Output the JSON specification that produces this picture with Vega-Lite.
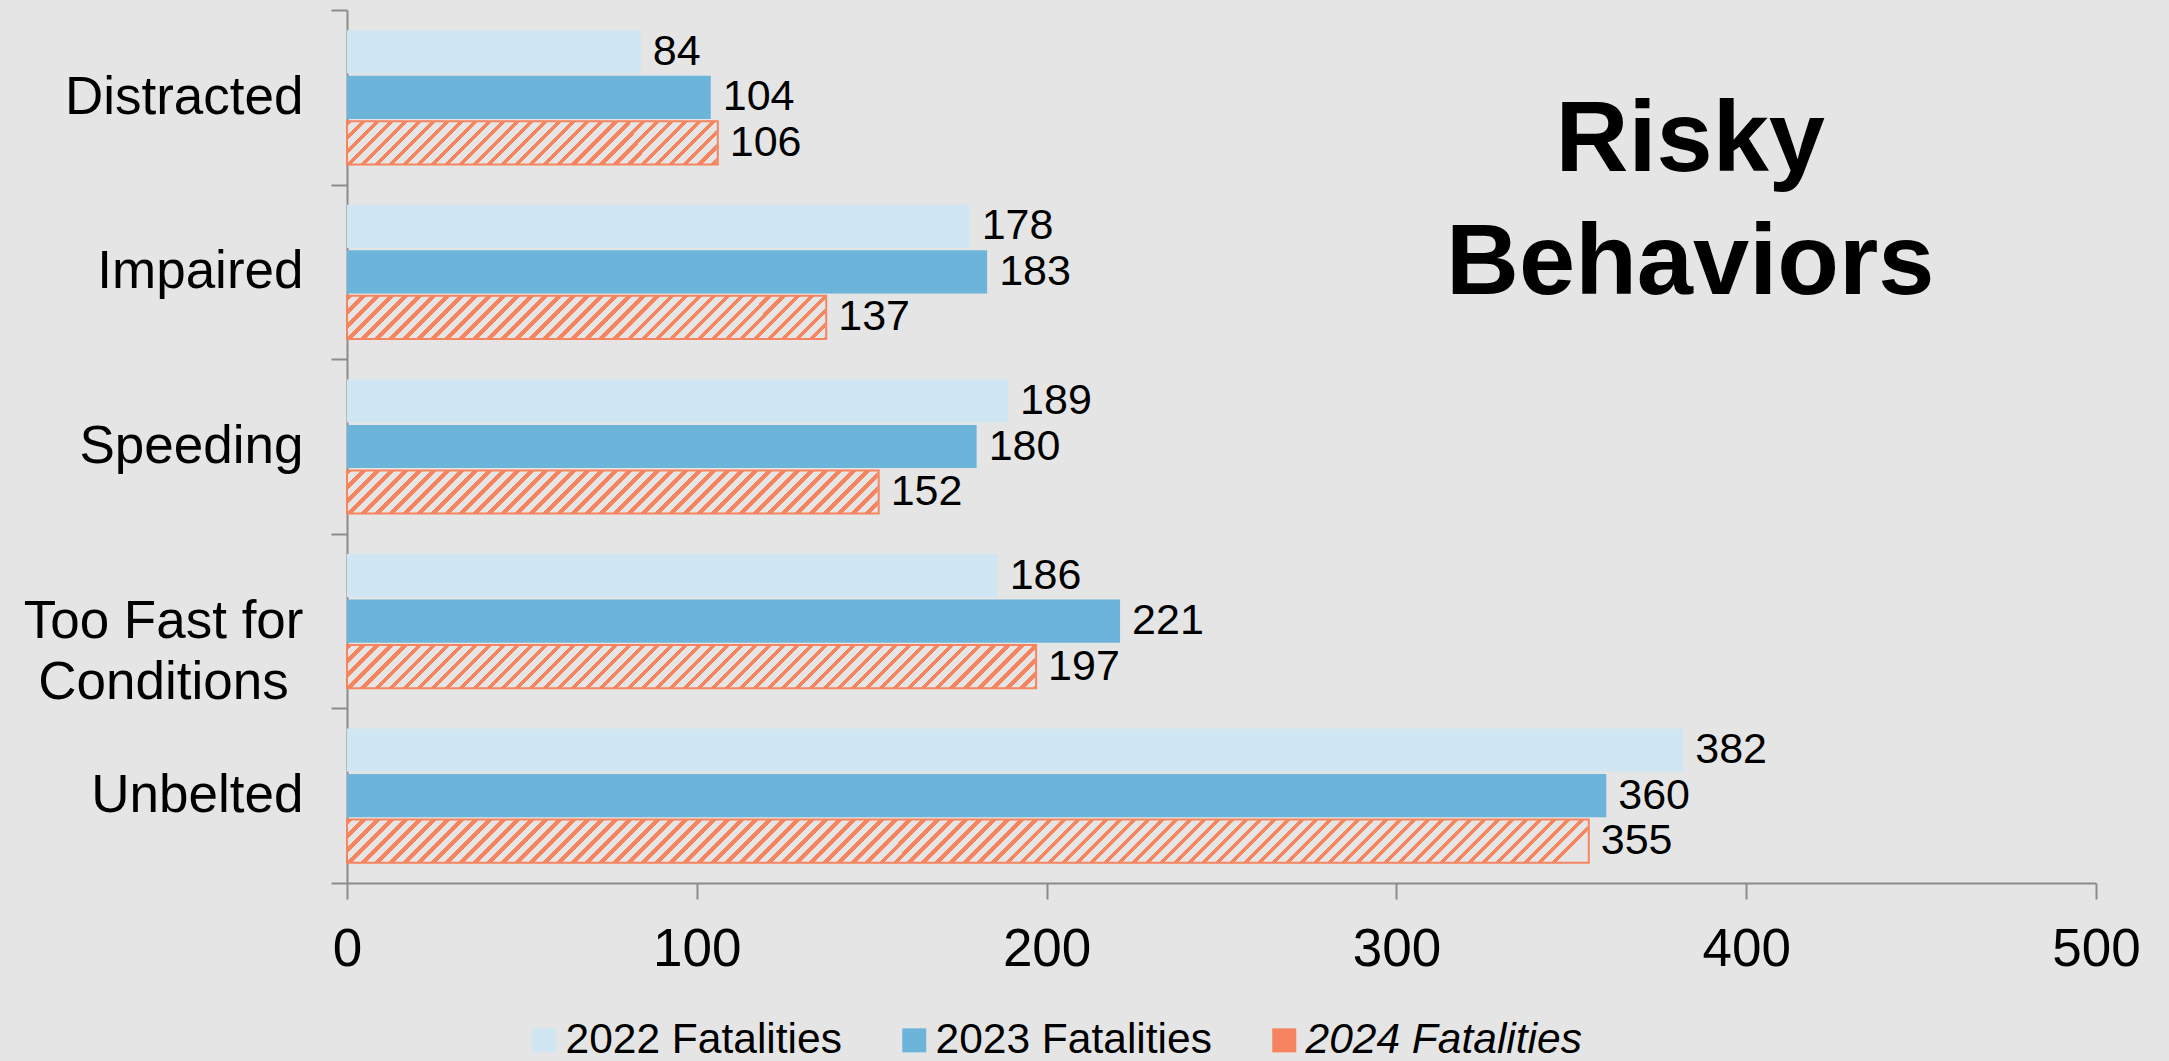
{
  "$schema": "https://vega.github.io/schema/vega-lite/v6.json",
  "width": 1749,
  "height": 873,
  "autosize": {"type": "none"},
  "padding": {"left": 347, "top": 10, "right": 73, "bottom": 178},
  "background": "#e5e5e5",
  "config": {
    "view": {"stroke": null},
    "font": "Liberation Sans",
    "axis": {"labelFont": "Liberation Sans", "labelColor": "#000000", "domainColor": "#8c8c8c", "tickColor": "#8c8c8c", "domainWidth": 2, "tickWidth": 2, "grid": false},
    "text": {"font": "Liberation Sans"}
  },
  "data": {"values": [
    {"cat": "Distracted", "year": "2022", "value": 84},
    {"cat": "Distracted", "year": "2023", "value": 104},
    {"cat": "Distracted", "year": "2024", "value": 106},
    {"cat": "Impaired", "year": "2022", "value": 178},
    {"cat": "Impaired", "year": "2023", "value": 183},
    {"cat": "Impaired", "year": "2024", "value": 137},
    {"cat": "Speeding", "year": "2022", "value": 189},
    {"cat": "Speeding", "year": "2023", "value": 180},
    {"cat": "Speeding", "year": "2024", "value": 152},
    {"cat": "Too Fast for Conditions", "year": "2022", "value": 186},
    {"cat": "Too Fast for Conditions", "year": "2023", "value": 221},
    {"cat": "Too Fast for Conditions", "year": "2024", "value": 197},
    {"cat": "Unbelted", "year": "2022", "value": 382},
    {"cat": "Unbelted", "year": "2023", "value": 360},
    {"cat": "Unbelted", "year": "2024", "value": 355}
  ]},
  "layer": [
    {
      "transform": [{"filter": "datum.year == '2024'"}],
      "mark": {"type": "bar", "fill": {"gradient": "linear", "x1": 0, "y1": 0, "x2": 1, "y2": 0.0343, "stops": [
{"offset":0,"color":"#f5845f"},{"offset":0.0044,"color":"#f5845f"},{"offset":0.0044,"color":"#e5e5e5"},{"offset":0.0111,"color":"#e5e5e5"},
{"offset":0.0111,"color":"#f5845f"},{"offset":0.0156,"color":"#f5845f"},{"offset":0.0156,"color":"#e5e5e5"},{"offset":0.0222,"color":"#e5e5e5"},
{"offset":0.0222,"color":"#f5845f"},{"offset":0.0267,"color":"#f5845f"},{"offset":0.0267,"color":"#e5e5e5"},{"offset":0.0333,"color":"#e5e5e5"},
{"offset":0.0333,"color":"#f5845f"},{"offset":0.0378,"color":"#f5845f"},{"offset":0.0378,"color":"#e5e5e5"},{"offset":0.0444,"color":"#e5e5e5"},
{"offset":0.0444,"color":"#f5845f"},{"offset":0.0489,"color":"#f5845f"},{"offset":0.0489,"color":"#e5e5e5"},{"offset":0.0556,"color":"#e5e5e5"},
{"offset":0.0556,"color":"#f5845f"},{"offset":0.06,"color":"#f5845f"},{"offset":0.06,"color":"#e5e5e5"},{"offset":0.0667,"color":"#e5e5e5"},
{"offset":0.0667,"color":"#f5845f"},{"offset":0.0711,"color":"#f5845f"},{"offset":0.0711,"color":"#e5e5e5"},{"offset":0.0778,"color":"#e5e5e5"},
{"offset":0.0778,"color":"#f5845f"},{"offset":0.0822,"color":"#f5845f"},{"offset":0.0822,"color":"#e5e5e5"},{"offset":0.0889,"color":"#e5e5e5"},
{"offset":0.0889,"color":"#f5845f"},{"offset":0.0933,"color":"#f5845f"},{"offset":0.0933,"color":"#e5e5e5"},{"offset":0.1,"color":"#e5e5e5"},
{"offset":0.1,"color":"#f5845f"},{"offset":0.1044,"color":"#f5845f"},{"offset":0.1044,"color":"#e5e5e5"},{"offset":0.1111,"color":"#e5e5e5"},
{"offset":0.1111,"color":"#f5845f"},{"offset":0.1156,"color":"#f5845f"},{"offset":0.1156,"color":"#e5e5e5"},{"offset":0.1222,"color":"#e5e5e5"},
{"offset":0.1222,"color":"#f5845f"},{"offset":0.1267,"color":"#f5845f"},{"offset":0.1267,"color":"#e5e5e5"},{"offset":0.1333,"color":"#e5e5e5"},
{"offset":0.1333,"color":"#f5845f"},{"offset":0.1378,"color":"#f5845f"},{"offset":0.1378,"color":"#e5e5e5"},{"offset":0.1444,"color":"#e5e5e5"},
{"offset":0.1444,"color":"#f5845f"},{"offset":0.1489,"color":"#f5845f"},{"offset":0.1489,"color":"#e5e5e5"},{"offset":0.1556,"color":"#e5e5e5"},
{"offset":0.1556,"color":"#f5845f"},{"offset":0.16,"color":"#f5845f"},{"offset":0.16,"color":"#e5e5e5"},{"offset":0.1667,"color":"#e5e5e5"},
{"offset":0.1667,"color":"#f5845f"},{"offset":0.1711,"color":"#f5845f"},{"offset":0.1711,"color":"#e5e5e5"},{"offset":0.1778,"color":"#e5e5e5"},
{"offset":0.1778,"color":"#f5845f"},{"offset":0.1822,"color":"#f5845f"},{"offset":0.1822,"color":"#e5e5e5"},{"offset":0.1889,"color":"#e5e5e5"},
{"offset":0.1889,"color":"#f5845f"},{"offset":0.1933,"color":"#f5845f"},{"offset":0.1933,"color":"#e5e5e5"},{"offset":0.2,"color":"#e5e5e5"},
{"offset":0.2,"color":"#f5845f"},{"offset":0.2044,"color":"#f5845f"},{"offset":0.2044,"color":"#e5e5e5"},{"offset":0.2111,"color":"#e5e5e5"},
{"offset":0.2111,"color":"#f5845f"},{"offset":0.2156,"color":"#f5845f"},{"offset":0.2156,"color":"#e5e5e5"},{"offset":0.2222,"color":"#e5e5e5"},
{"offset":0.2222,"color":"#f5845f"},{"offset":0.2267,"color":"#f5845f"},{"offset":0.2267,"color":"#e5e5e5"},{"offset":0.2333,"color":"#e5e5e5"},
{"offset":0.2333,"color":"#f5845f"},{"offset":0.2378,"color":"#f5845f"},{"offset":0.2378,"color":"#e5e5e5"},{"offset":0.2444,"color":"#e5e5e5"},
{"offset":0.2444,"color":"#f5845f"},{"offset":0.2489,"color":"#f5845f"},{"offset":0.2489,"color":"#e5e5e5"},{"offset":0.2556,"color":"#e5e5e5"},
{"offset":0.2556,"color":"#f5845f"},{"offset":0.26,"color":"#f5845f"},{"offset":0.26,"color":"#e5e5e5"},{"offset":0.2667,"color":"#e5e5e5"},
{"offset":0.2667,"color":"#f5845f"},{"offset":0.2711,"color":"#f5845f"},{"offset":0.2711,"color":"#e5e5e5"},{"offset":0.2778,"color":"#e5e5e5"},
{"offset":0.2778,"color":"#f5845f"},{"offset":0.2822,"color":"#f5845f"},{"offset":0.2822,"color":"#e5e5e5"},{"offset":0.2889,"color":"#e5e5e5"},
{"offset":0.2889,"color":"#f5845f"},{"offset":0.2933,"color":"#f5845f"},{"offset":0.2933,"color":"#e5e5e5"},{"offset":0.3,"color":"#e5e5e5"},
{"offset":0.3,"color":"#f5845f"},{"offset":0.3044,"color":"#f5845f"},{"offset":0.3044,"color":"#e5e5e5"},{"offset":0.3111,"color":"#e5e5e5"},
{"offset":0.3111,"color":"#f5845f"},{"offset":0.3156,"color":"#f5845f"},{"offset":0.3156,"color":"#e5e5e5"},{"offset":0.3222,"color":"#e5e5e5"},
{"offset":0.3222,"color":"#f5845f"},{"offset":0.3267,"color":"#f5845f"},{"offset":0.3267,"color":"#e5e5e5"},{"offset":0.3333,"color":"#e5e5e5"},
{"offset":0.3333,"color":"#f5845f"},{"offset":0.3378,"color":"#f5845f"},{"offset":0.3378,"color":"#e5e5e5"},{"offset":0.3444,"color":"#e5e5e5"},
{"offset":0.3444,"color":"#f5845f"},{"offset":0.3489,"color":"#f5845f"},{"offset":0.3489,"color":"#e5e5e5"},{"offset":0.3556,"color":"#e5e5e5"},
{"offset":0.3556,"color":"#f5845f"},{"offset":0.36,"color":"#f5845f"},{"offset":0.36,"color":"#e5e5e5"},{"offset":0.3667,"color":"#e5e5e5"},
{"offset":0.3667,"color":"#f5845f"},{"offset":0.3711,"color":"#f5845f"},{"offset":0.3711,"color":"#e5e5e5"},{"offset":0.3778,"color":"#e5e5e5"},
{"offset":0.3778,"color":"#f5845f"},{"offset":0.3822,"color":"#f5845f"},{"offset":0.3822,"color":"#e5e5e5"},{"offset":0.3889,"color":"#e5e5e5"},
{"offset":0.3889,"color":"#f5845f"},{"offset":0.3933,"color":"#f5845f"},{"offset":0.3933,"color":"#e5e5e5"},{"offset":0.4,"color":"#e5e5e5"},
{"offset":0.4,"color":"#f5845f"},{"offset":0.4044,"color":"#f5845f"},{"offset":0.4044,"color":"#e5e5e5"},{"offset":0.4111,"color":"#e5e5e5"},
{"offset":0.4111,"color":"#f5845f"},{"offset":0.4156,"color":"#f5845f"},{"offset":0.4156,"color":"#e5e5e5"},{"offset":0.4222,"color":"#e5e5e5"},
{"offset":0.4222,"color":"#f5845f"},{"offset":0.4267,"color":"#f5845f"},{"offset":0.4267,"color":"#e5e5e5"},{"offset":0.4333,"color":"#e5e5e5"},
{"offset":0.4333,"color":"#f5845f"},{"offset":0.4378,"color":"#f5845f"},{"offset":0.4378,"color":"#e5e5e5"},{"offset":0.4444,"color":"#e5e5e5"},
{"offset":0.4444,"color":"#f5845f"},{"offset":0.4489,"color":"#f5845f"},{"offset":0.4489,"color":"#e5e5e5"},{"offset":0.4556,"color":"#e5e5e5"},
{"offset":0.4556,"color":"#f5845f"},{"offset":0.46,"color":"#f5845f"},{"offset":0.46,"color":"#e5e5e5"},{"offset":0.4667,"color":"#e5e5e5"},
{"offset":0.4667,"color":"#f5845f"},{"offset":0.4711,"color":"#f5845f"},{"offset":0.4711,"color":"#e5e5e5"},{"offset":0.4778,"color":"#e5e5e5"},
{"offset":0.4778,"color":"#f5845f"},{"offset":0.4822,"color":"#f5845f"},{"offset":0.4822,"color":"#e5e5e5"},{"offset":0.4889,"color":"#e5e5e5"},
{"offset":0.4889,"color":"#f5845f"},{"offset":0.4933,"color":"#f5845f"},{"offset":0.4933,"color":"#e5e5e5"},{"offset":0.5,"color":"#e5e5e5"},
{"offset":0.5,"color":"#f5845f"},{"offset":0.5044,"color":"#f5845f"},{"offset":0.5044,"color":"#e5e5e5"},{"offset":0.5111,"color":"#e5e5e5"},
{"offset":0.5111,"color":"#f5845f"},{"offset":0.5156,"color":"#f5845f"},{"offset":0.5156,"color":"#e5e5e5"},{"offset":0.5222,"color":"#e5e5e5"},
{"offset":0.5222,"color":"#f5845f"},{"offset":0.5267,"color":"#f5845f"},{"offset":0.5267,"color":"#e5e5e5"},{"offset":0.5333,"color":"#e5e5e5"},
{"offset":0.5333,"color":"#f5845f"},{"offset":0.5378,"color":"#f5845f"},{"offset":0.5378,"color":"#e5e5e5"},{"offset":0.5444,"color":"#e5e5e5"},
{"offset":0.5444,"color":"#f5845f"},{"offset":0.5489,"color":"#f5845f"},{"offset":0.5489,"color":"#e5e5e5"},{"offset":0.5556,"color":"#e5e5e5"},
{"offset":0.5556,"color":"#f5845f"},{"offset":0.56,"color":"#f5845f"},{"offset":0.56,"color":"#e5e5e5"},{"offset":0.5667,"color":"#e5e5e5"},
{"offset":0.5667,"color":"#f5845f"},{"offset":0.5711,"color":"#f5845f"},{"offset":0.5711,"color":"#e5e5e5"},{"offset":0.5778,"color":"#e5e5e5"},
{"offset":0.5778,"color":"#f5845f"},{"offset":0.5822,"color":"#f5845f"},{"offset":0.5822,"color":"#e5e5e5"},{"offset":0.5889,"color":"#e5e5e5"},
{"offset":0.5889,"color":"#f5845f"},{"offset":0.5933,"color":"#f5845f"},{"offset":0.5933,"color":"#e5e5e5"},{"offset":0.6,"color":"#e5e5e5"},
{"offset":0.6,"color":"#f5845f"},{"offset":0.6044,"color":"#f5845f"},{"offset":0.6044,"color":"#e5e5e5"},{"offset":0.6111,"color":"#e5e5e5"},
{"offset":0.6111,"color":"#f5845f"},{"offset":0.6156,"color":"#f5845f"},{"offset":0.6156,"color":"#e5e5e5"},{"offset":0.6222,"color":"#e5e5e5"},
{"offset":0.6222,"color":"#f5845f"},{"offset":0.6267,"color":"#f5845f"},{"offset":0.6267,"color":"#e5e5e5"},{"offset":0.6333,"color":"#e5e5e5"},
{"offset":0.6333,"color":"#f5845f"},{"offset":0.6378,"color":"#f5845f"},{"offset":0.6378,"color":"#e5e5e5"},{"offset":0.6444,"color":"#e5e5e5"},
{"offset":0.6444,"color":"#f5845f"},{"offset":0.6489,"color":"#f5845f"},{"offset":0.6489,"color":"#e5e5e5"},{"offset":0.6556,"color":"#e5e5e5"},
{"offset":0.6556,"color":"#f5845f"},{"offset":0.66,"color":"#f5845f"},{"offset":0.66,"color":"#e5e5e5"},{"offset":0.6667,"color":"#e5e5e5"},
{"offset":0.6667,"color":"#f5845f"},{"offset":0.6711,"color":"#f5845f"},{"offset":0.6711,"color":"#e5e5e5"},{"offset":0.6778,"color":"#e5e5e5"},
{"offset":0.6778,"color":"#f5845f"},{"offset":0.6822,"color":"#f5845f"},{"offset":0.6822,"color":"#e5e5e5"},{"offset":0.6889,"color":"#e5e5e5"},
{"offset":0.6889,"color":"#f5845f"},{"offset":0.6933,"color":"#f5845f"},{"offset":0.6933,"color":"#e5e5e5"},{"offset":0.7,"color":"#e5e5e5"},
{"offset":0.7,"color":"#f5845f"},{"offset":0.7044,"color":"#f5845f"},{"offset":0.7044,"color":"#e5e5e5"},{"offset":0.7111,"color":"#e5e5e5"},
{"offset":0.7111,"color":"#f5845f"},{"offset":0.7156,"color":"#f5845f"},{"offset":0.7156,"color":"#e5e5e5"},{"offset":0.7222,"color":"#e5e5e5"},
{"offset":0.7222,"color":"#f5845f"},{"offset":0.7267,"color":"#f5845f"},{"offset":0.7267,"color":"#e5e5e5"},{"offset":0.7333,"color":"#e5e5e5"},
{"offset":0.7333,"color":"#f5845f"},{"offset":0.7378,"color":"#f5845f"},{"offset":0.7378,"color":"#e5e5e5"},{"offset":0.7444,"color":"#e5e5e5"},
{"offset":0.7444,"color":"#f5845f"},{"offset":0.7489,"color":"#f5845f"},{"offset":0.7489,"color":"#e5e5e5"},{"offset":0.7556,"color":"#e5e5e5"},
{"offset":0.7556,"color":"#f5845f"},{"offset":0.76,"color":"#f5845f"},{"offset":0.76,"color":"#e5e5e5"},{"offset":0.7667,"color":"#e5e5e5"},
{"offset":0.7667,"color":"#f5845f"},{"offset":0.7711,"color":"#f5845f"},{"offset":0.7711,"color":"#e5e5e5"},{"offset":0.7778,"color":"#e5e5e5"},
{"offset":0.7778,"color":"#f5845f"},{"offset":0.7822,"color":"#f5845f"},{"offset":0.7822,"color":"#e5e5e5"},{"offset":0.7889,"color":"#e5e5e5"},
{"offset":0.7889,"color":"#f5845f"},{"offset":0.7933,"color":"#f5845f"},{"offset":0.7933,"color":"#e5e5e5"},{"offset":0.8,"color":"#e5e5e5"},
{"offset":0.8,"color":"#f5845f"},{"offset":0.8044,"color":"#f5845f"},{"offset":0.8044,"color":"#e5e5e5"},{"offset":0.8111,"color":"#e5e5e5"},
{"offset":0.8111,"color":"#f5845f"},{"offset":0.8156,"color":"#f5845f"},{"offset":0.8156,"color":"#e5e5e5"},{"offset":0.8222,"color":"#e5e5e5"},
{"offset":0.8222,"color":"#f5845f"},{"offset":0.8267,"color":"#f5845f"},{"offset":0.8267,"color":"#e5e5e5"},{"offset":0.8333,"color":"#e5e5e5"},
{"offset":0.8333,"color":"#f5845f"},{"offset":0.8378,"color":"#f5845f"},{"offset":0.8378,"color":"#e5e5e5"},{"offset":0.8444,"color":"#e5e5e5"},
{"offset":0.8444,"color":"#f5845f"},{"offset":0.8489,"color":"#f5845f"},{"offset":0.8489,"color":"#e5e5e5"},{"offset":0.8556,"color":"#e5e5e5"},
{"offset":0.8556,"color":"#f5845f"},{"offset":0.86,"color":"#f5845f"},{"offset":0.86,"color":"#e5e5e5"},{"offset":0.8667,"color":"#e5e5e5"},
{"offset":0.8667,"color":"#f5845f"},{"offset":0.8711,"color":"#f5845f"},{"offset":0.8711,"color":"#e5e5e5"},{"offset":0.8778,"color":"#e5e5e5"},
{"offset":0.8778,"color":"#f5845f"},{"offset":0.8822,"color":"#f5845f"},{"offset":0.8822,"color":"#e5e5e5"},{"offset":0.8889,"color":"#e5e5e5"},
{"offset":0.8889,"color":"#f5845f"},{"offset":0.8933,"color":"#f5845f"},{"offset":0.8933,"color":"#e5e5e5"},{"offset":0.9,"color":"#e5e5e5"},
{"offset":0.9,"color":"#f5845f"},{"offset":0.9044,"color":"#f5845f"},{"offset":0.9044,"color":"#e5e5e5"},{"offset":0.9111,"color":"#e5e5e5"},
{"offset":0.9111,"color":"#f5845f"},{"offset":0.9156,"color":"#f5845f"},{"offset":0.9156,"color":"#e5e5e5"},{"offset":0.9222,"color":"#e5e5e5"},
{"offset":0.9222,"color":"#f5845f"},{"offset":0.9267,"color":"#f5845f"},{"offset":0.9267,"color":"#e5e5e5"},{"offset":0.9333,"color":"#e5e5e5"},
{"offset":0.9333,"color":"#f5845f"},{"offset":0.9378,"color":"#f5845f"},{"offset":0.9378,"color":"#e5e5e5"},{"offset":0.9444,"color":"#e5e5e5"},
{"offset":0.9444,"color":"#f5845f"},{"offset":0.9489,"color":"#f5845f"},{"offset":0.9489,"color":"#e5e5e5"},{"offset":0.9556,"color":"#e5e5e5"},
{"offset":0.9556,"color":"#f5845f"},{"offset":0.96,"color":"#f5845f"},{"offset":0.96,"color":"#e5e5e5"},{"offset":0.9667,"color":"#e5e5e5"},
{"offset":0.9667,"color":"#f5845f"},{"offset":0.9711,"color":"#f5845f"},{"offset":0.9711,"color":"#e5e5e5"},{"offset":0.9778,"color":"#e5e5e5"},
{"offset":0.9778,"color":"#f5845f"},{"offset":0.9822,"color":"#f5845f"},{"offset":0.9822,"color":"#e5e5e5"},{"offset":0.9889,"color":"#e5e5e5"},
{"offset":0.9889,"color":"#f5845f"},{"offset":0.9933,"color":"#f5845f"},{"offset":0.9933,"color":"#e5e5e5"},{"offset":1,"color":"#e5e5e5"}
      ]}},
      "encoding": {
        "x": {"datum": 0, "type": "quantitative"},
        "x2": {"datum": 360},
        "y": {"field": "cat", "type": "nominal"},
        "yOffset": {"field": "year", "type": "nominal"}
      }
    },
    {
      "transform": [{"filter": "datum.year == '2024'"}],
      "mark": {"type": "bar", "fill": "#e5e5e5", "stroke": "#e5e5e5", "strokeWidth": 2},
      "encoding": {
        "x": {"field": "value", "type": "quantitative"},
        "x2": {"datum": 362},
        "y": {"field": "cat", "type": "nominal"},
        "yOffset": {"field": "year", "type": "nominal"}
      }
    },
    {
      "transform": [{"filter": "datum.year == '2024'"}],
      "mark": {"type": "bar", "fillOpacity": 0, "stroke": "#f5845f", "strokeWidth": 2},
      "encoding": {
        "x": {"field": "value", "type": "quantitative"},
        "y": {"field": "cat", "type": "nominal"},
        "yOffset": {"field": "year", "type": "nominal"}
      }
    },
    {
      "transform": [{"filter": "datum.year != '2024'"}],
      "mark": {"type": "bar"},
      "encoding": {
        "x": {"field": "value", "type": "quantitative", "scale": {"domain": [0, 500], "nice": false, "zero": true},
          "axis": {"values": [0, 100, 200, 300, 400, 500], "title": null, "labelFontSize": 53, "tickSize": 16, "labelPadding": 24, "labelFlush": false, "labelOverlap": false}},
        "y": {"field": "cat", "type": "nominal",
          "scale": {"domain": ["Distracted", "Impaired", "Speeding", "Too Fast for Conditions", "Unbelted"], "paddingInner": 0, "paddingOuter": 0},
          "axis": {"title": null, "tickBand": "extent", "tickSize": 16, "labelPadding": 28, "labelFontSize": 53, "labelLineHeight": 61, "labelLimit": 0,
            "labelExpr": "datum.value == 'Too Fast for Conditions' ? ['Too Fast for', 'Conditions\u00a0\u200b'] : datum.value"}},
        "yOffset": {"field": "year", "type": "nominal", "scale": {"domain": ["2022", "2023", "2024"], "paddingInner": 0.05, "paddingOuter": 0.444}},
        "color": {"field": "year", "type": "nominal",
          "scale": {"domain": ["2022", "2023", "2024"], "range": ["#d0e6f2", "#6cb4da", "#f5845f"]},
          "legend": {
            "orient": "none", "legendX": 176, "legendY": 1009, "direction": "horizontal", "title": null,
            "symbolType": "square", "symbolSize": 576, "symbolStrokeWidth": 0,
            "labelFontSize": 42.5, "labelOffset": 0, "columnPadding": 51, "labelLimit": 0, "labelColor": "#000000", "labelFont": "Liberation Sans",
            "labelExpr": "datum.label + ' Fatalities'",
            "encode": {
              "labels": {"update": {"fontStyle": {"signal": "datum.value === '2024' ? 'italic' : 'normal'"}}},
              "symbols": {"update": {
                "fill": {"condition": [
                  {"test": "datum.value === '2024'", "value": {"gradient": "linear", "x1": 0, "y1": 0, "x2": 1, "y2": 1, "stops": [
                    {"offset": 0, "color": "#f5845f"}, {"offset": 0.28, "color": "#f5845f"}, {"offset": 0.28, "color": "#eeeeee"}, {"offset": 0.39, "color": "#eeeeee"},
                    {"offset": 0.39, "color": "#f5845f"}, {"offset": 0.61, "color": "#f5845f"}, {"offset": 0.61, "color": "#eeeeee"}, {"offset": 0.72, "color": "#eeeeee"},
                    {"offset": 0.72, "color": "#f5845f"}, {"offset": 1, "color": "#f5845f"}]}},
                  {"test": "datum.value === '2023'", "value": "#6cb4da"}
                ], "value": "#d0e6f2"},
                "stroke": {"condition": {"test": "datum.value === '2024'", "value": "#f5845f"}, "value": "transparent"},
                "strokeWidth": {"value": 2}
              }}
            }
          }}
      }
    },
    {
      "mark": {"type": "text", "align": "left", "baseline": "middle", "dx": 12, "fontSize": 43, "color": "#000000"},
      "encoding": {
        "x": {"field": "value", "type": "quantitative"},
        "y": {"field": "cat", "type": "nominal"},
        "yOffset": {"field": "year", "type": "nominal"},
        "text": {"field": "value", "type": "quantitative"}
      }
    },
    {
      "data": {"values": [{"title": "Risky Behaviors"}]},
      "mark": {"type": "text", "text": ["Risky", "Behaviors"], "fontSize": 101, "fontWeight": "bold", "lineHeight": 123, "align": "center", "baseline": "middle", "dy": -44, "color": "#000000"},
      "encoding": {
        "x": {"datum": 384, "type": "quantitative"},
        "y": {"datum": "Impaired", "type": "nominal", "bandPosition": 0}
      }
    }
  ]
}
